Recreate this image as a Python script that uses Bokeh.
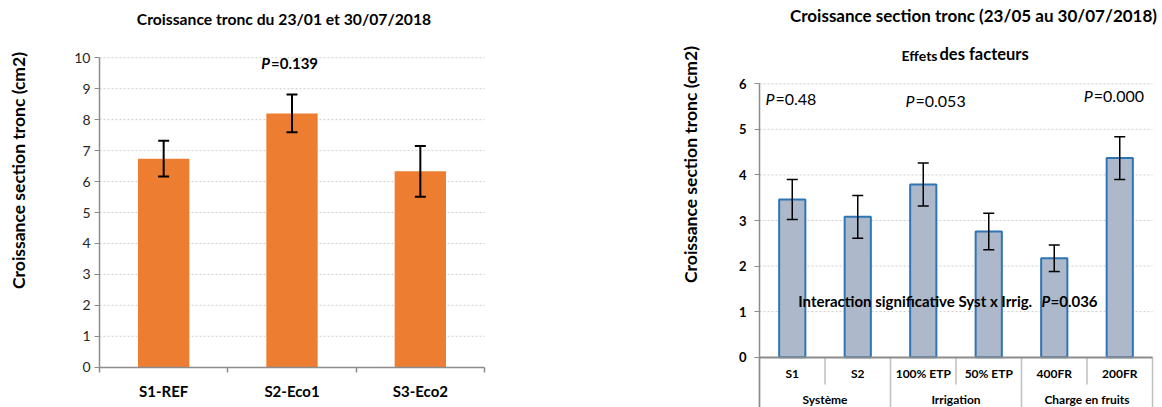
import math
from bokeh.plotting import figure
from bokeh.models import (Range1d, FixedTicker, Whisker, TeeHead, ColumnDataSource, Label)
from bokeh.layouts import row
from bokeh.embed import file_html
from bokeh.resources import INLINE
from bokeh.core.properties import value

# ---- data: trunk growth 23/01 -> 30/07/2018, by system ----
systems = ["S1-REF", "S2-Eco1", "S3-Eco2"]
growth = [6.74, 8.20, 6.33]
growth_err = [0.58, 0.61, 0.82]
p_systems = "=0.139"

# ---- data: trunk growth 23/05 -> 30/07/2018, factor effects ----
groups = ["Système", "Irrigation", "Charge en fruits"]
levels = ["S1", "S2", "100% ETP", "50% ETP", "400FR", "200FR"]
level_group = [0, 0, 1, 1, 2, 2]
effect = [3.46, 3.08, 3.79, 2.76, 2.17, 4.37]
effect_err = [0.44, 0.47, 0.47, 0.40, 0.29, 0.47]
p_factors = ["=0.48", "=0.053", "=0.000"]
p_interaction = "=0.036"

FONT = "Lato"
AXIS_GREY = "#8C8C8C"
GRID_GREY = "#CCCCCC"
SEP_GREY = "#BFBFBF"
H = 407


def padded_range(lo, hi, px_lo, px_hi, size):
    """Range whose [lo, hi] lands on pixels [px_lo, px_hi] of a frame of `size` px."""
    k = (hi - lo) / (px_hi - px_lo)
    return Range1d(lo - px_lo * k, hi + (size - px_hi) * k)


def make_fig(width, xr, yr):
    p = figure(width=width, height=H, x_range=xr, y_range=yr, output_backend="svg",
               toolbar_location=None, title_location=None, min_border=0)
    p.outline_line_color = None
    p.xgrid.visible = False
    p.ygrid.visible = False
    return p


def label(p, fig_left, px, py, text, size, style="bold", align="left",
          baseline="alphabetic", angle=0.0, color="black"):
    p.add_layout(Label(x=px - fig_left, y=H - py, x_units="screen", y_units="screen",
                       text=text, text_font=FONT, text_font_size=size,
                       text_font_style=style, text_align=align, text_baseline=baseline,
                       angle=angle, text_color=color))


def style_axis(ax, size, bold, color):
    ax.axis_line_color = AXIS_GREY
    ax.axis_line_width = 1.5
    ax.major_label_text_font = FONT
    ax.major_label_text_font_size = size
    ax.major_label_text_font_style = "bold" if bold else "normal"
    ax.major_label_text_color = color


def whiskers(p, src, width):
    head = dict(size=11, line_width=width, line_color="black")
    p.add_layout(Whisker(base="x", upper="upper", lower="lower", source=src,
                         line_color="black", line_width=width, level="overlay",
                         upper_head=TeeHead(**head), lower_head=TeeHead(**head)))


# ================= left chart =================
nl = len(systems)
xs = [i + 1 for i in range(nl)]
edges_l = [x - 0.5 for x in xs] + [xs[-1] + 0.5]
yticks_l = list(range(0, 11))
left = make_fig(560,
                padded_range(edges_l[0], edges_l[-1], 99, 484, 560),
                padded_range(yticks_l[0], yticks_l[-1], H - 366.7, H - 57.3, H))

# dotted horizontal guides over the category span
gl = yticks_l[1:]
left.segment(x0=[edges_l[0]] * len(gl), x1=[edges_l[-1]] * len(gl), y0=gl, y1=gl,
             line_color=GRID_GREY, line_dash="2 2", line_width=1)

src_l = ColumnDataSource(dict(
    x=xs, top=growth,
    upper=[g + e for g, e in zip(growth, growth_err)],
    lower=[g - e for g, e in zip(growth, growth_err)]))
left.vbar(x="x", top="top", bottom=0, width=0.4, fill_color="#ED7D31",
          line_color=None, source=src_l)
whiskers(left, src_l, 2)

xa = left.xaxis[0]
xa.fixed_location = 0
xa.bounds = (edges_l[0], edges_l[-1])
xa.ticker = FixedTicker(ticks=xs, minor_ticks=edges_l)
xa.major_label_overrides = {x: s for x, s in zip(xs, systems)}
xa.major_tick_line_color = None
xa.major_tick_out = 0
xa.minor_tick_out = 5
xa.minor_tick_in = 0
xa.minor_tick_line_color = AXIS_GREY
xa.minor_tick_line_width = 1.5
xa.major_label_standoff = 10
style_axis(xa, "15px", True, "black")

ya = left.yaxis[0]
ya.fixed_location = edges_l[0]
ya.bounds = (yticks_l[0], yticks_l[-1])
ya.ticker = FixedTicker(ticks=yticks_l)
ya.major_tick_out = 5
ya.major_tick_in = 0
ya.minor_tick_line_color = None
ya.major_tick_line_color = AXIS_GREY
ya.major_label_standoff = 4
style_axis(ya, "14px", False, "#262626")

label(left, 0, 283.5, 18, "Croissance tronc du 23/01 et 30/07/2018", "15.7px",
      align="center")
label(left, 0, 18, 170, "Croissance section tronc (cm2)", "17.5px", align="center",
      baseline="middle", angle=math.pi / 2)
label(left, 0, 260.7, 62.5, "P", "15px", style="bold italic")
label(left, 0, 270.5, 62.5, p_systems, "15px")

# ================= right chart =================
X0 = 560
n = len(levels)
xr = [i + 0.5 for i in range(n)]
yticks_r = list(range(0, 7))
right = make_fig(602,
                 padded_range(0, n, 759 - X0, 1152 - X0, 602),
                 padded_range(yticks_r[0], yticks_r[-1], H - 356.7, H - 83.3, H))
y_bottom = right.y_range.start

gr = yticks_r[1:]
right.segment(x0=[0] * len(gr), x1=[n] * len(gr), y0=gr, y1=gr,
              line_color=GRID_GREY, line_dash="2 2", line_width=1)

src_r = ColumnDataSource(dict(
    x=xr, top=effect,
    upper=[v + e for v, e in zip(effect, effect_err)],
    lower=[v - e for v, e in zip(effect, effect_err)]))
right.vbar(x="x", top="top", bottom=0, width=0.4, fill_color="#ADB9CA",
           line_color="#2E75B6", line_width=2, source=src_r)
whiskers(right, src_r, 1.5)

yr = right.yaxis[0]
yr.fixed_location = 0
yr.bounds = (y_bottom, yticks_r[-1])
yr.ticker = FixedTicker(ticks=yticks_r)
yr.major_tick_out = 5
yr.major_tick_in = 0
yr.minor_tick_line_color = None
yr.major_tick_line_color = AXIS_GREY
yr.major_label_standoff = 8
style_axis(yr, "13px", True, "black")

# zero line of the category table
base = right.xaxis[0]
base.fixed_location = 0
base.bounds = (0, n)
base.ticker = FixedTicker(ticks=[])
base.major_label_text_font_size = "0px"
base.axis_line_color = AXIS_GREY
base.axis_line_width = 2

# two-level category table under the zero line
row_split = -0.6
group_edges = [0] + [i for i in range(1, n) if level_group[i] != level_group[i - 1]] + [n]
inner_edges = [i for i in range(1, n) if i not in group_edges]
right.segment(x0=group_edges, x1=group_edges, y0=[0] * len(group_edges),
              y1=[y_bottom] * len(group_edges), line_color=SEP_GREY, line_width=1.5)
right.segment(x0=inner_edges, x1=inner_edges, y0=[0] * len(inner_edges),
              y1=[row_split] * len(inner_edges), line_color=SEP_GREY, line_width=1.5)
right.text(x=xr, y=[-0.36] * n, text=levels, text_font=value(FONT),
           text_font_size="12px", text_font_style="bold", text_align="center",
           text_baseline="middle", text_color="black")
group_x = [(group_edges[g] + group_edges[g + 1]) / 2 for g in range(len(groups))]
right.text(x=group_x, y=[-0.93] * len(groups), text=groups, text_font=value(FONT),
           text_font_size="12px", text_font_style="bold", text_align="center",
           text_baseline="middle", text_color="black")

label(right, X0, 973, 15, "Croissance section tronc (23/05 au 30/07/2018)", "17px",
      align="center")
label(right, X0, 937, 55.3, "Effets", "14px", align="right")
label(right, X0, 939, 53.3, "des facteurs", "16.5px")
label(right, X0, 690, 164, "Croissance section tronc (cm2)", "17.5px", align="center",
      baseline="middle", angle=math.pi / 2)

p_pos = [(765, 97.5), (905, 100), (1083.3, 95)]
for (px, py), txt in zip(p_pos, p_factors):
    label(right, X0, px, py, "P", "16px", style="italic")
    label(right, X0, px + 10, py, txt, "16px", style="normal")

label(right, X0, 797.7, 300, "Interaction significative Syst x Irrig.", "15px")
label(right, X0, 1041, 300, "P", "15px", style="bold italic")
label(right, X0, 1050, 300, p_interaction, "15px")

layout = row(left, right)
open("out.html", "w").write(file_html(layout, INLINE))
